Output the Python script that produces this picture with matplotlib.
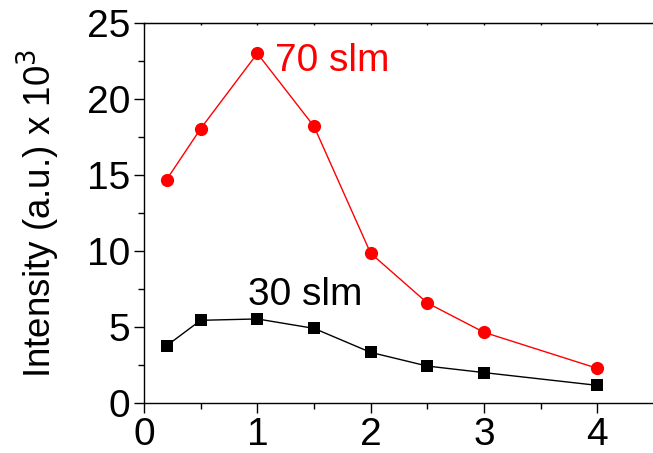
import matplotlib
matplotlib.use('Agg')
import matplotlib.pyplot as plt
from matplotlib.ticker import MultipleLocator

plt.rcParams['font.family'] = ['Liberation Sans', 'DejaVu Sans']

# flow distance and intensities for the two gas flow rates
distance = [0.2, 0.5, 1, 1.5, 2, 2.5, 3, 4]
flow_70 = [14.7, 18.05, 23.0, 18.2, 9.85, 6.58, 4.65, 2.28]
flow_30 = [3.77, 5.44, 5.53, 4.91, 3.33, 2.43, 2.0, 1.16]

fig = plt.figure(figsize=(6.53, 4.53), dpi=100)
ax = fig.add_axes([144 / 653, 50 / 453, 510 / 653, 380 / 453])

ax.plot(distance, flow_30, color='black', lw=1, marker='s', ms=8,
        markeredgewidth=0)
ax.plot(distance, flow_70, color='red', lw=1, marker='o', ms=9.5,
        markeredgewidth=0)

ax.text(1.155, 21.86, '70 slm', color='red', fontsize=28, va='baseline')
ax.text(0.917, 6.45, '30 slm', color='black', fontsize=28, va='baseline')

ax.set_xlim(0, 4.5)
ax.set_ylim(0, 25)
ax.xaxis.set_major_locator(MultipleLocator(1))
ax.xaxis.set_minor_locator(MultipleLocator(0.5))
ax.yaxis.set_major_locator(MultipleLocator(5))
ax.yaxis.set_minor_locator(MultipleLocator(2.5))

ax.tick_params(which='major', length=7, width=1, labelsize=28, pad=3)
ax.tick_params(which='minor', length=4, width=1)

# tiny inward ticks along the top edge
top = ax.secondary_xaxis('top')
top.xaxis.set_major_locator(MultipleLocator(0.5))
top.tick_params(direction='in', length=1.5, width=1, labeltop=False)

ax.set_ylabel('Intensity (a.u.) x 10$^3$', fontsize=26.5)
ax.yaxis.set_label_coords(-0.161, 0.5)

for s in ax.spines.values():
    s.set_linewidth(1)

fig.savefig('out.png', dpi=100)
